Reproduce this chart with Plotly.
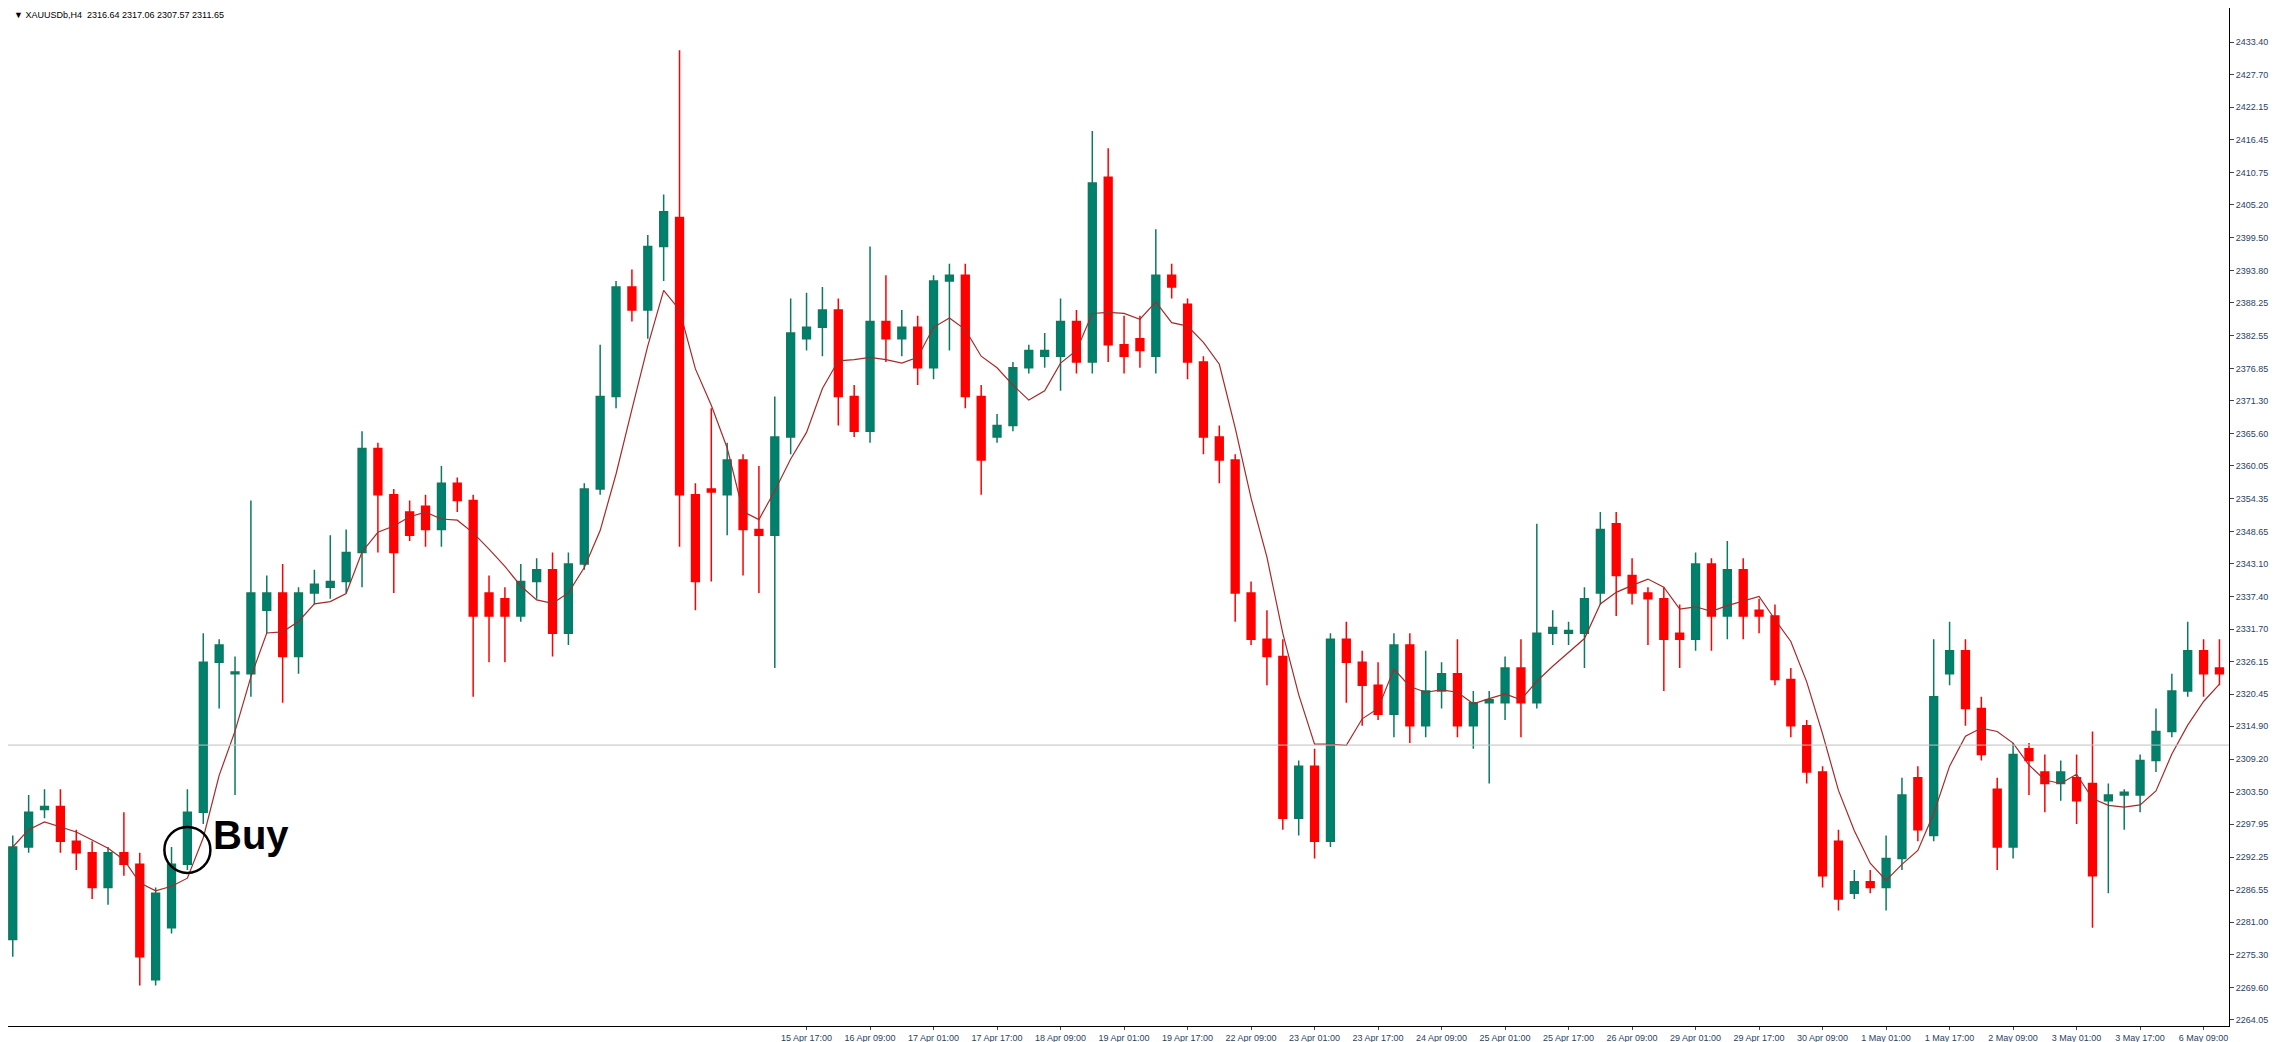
import plotly.graph_objects as go
import pandas as pd

opens = [2278, 2294, 2300.5, 2301, 2295, 2293, 2287, 2293, 2291, 2271,
         2280, 2291, 2300, 2326, 2324, 2324, 2335, 2338, 2327, 2338,
         2339, 2340, 2345, 2363, 2355, 2352, 2353, 2349, 2357, 2354,
         2338, 2337, 2334, 2340, 2342, 2331, 2343, 2356, 2372, 2391,
         2387, 2398, 2403, 2355, 2356, 2355, 2361, 2349, 2348, 2365,
         2382, 2384, 2387, 2372, 2366, 2385, 2382, 2384, 2377, 2392,
         2393, 2372, 2365, 2367, 2377, 2379, 2379, 2385, 2378, 2410,
         2381, 2382, 2379, 2393, 2388, 2378, 2365, 2361, 2338, 2330,
         2327, 2299, 2308, 2295, 2330, 2326, 2322, 2317, 2329, 2315,
         2321, 2324, 2315, 2319, 2319, 2325, 2319, 2331, 2331, 2331,
         2338, 2350, 2341, 2338, 2337, 2331, 2330, 2343, 2334, 2342,
         2335, 2334, 2323, 2315, 2307, 2295, 2286, 2288, 2287, 2292,
         2306, 2296, 2324, 2328, 2318, 2304, 2294, 2311, 2307, 2305,
         2306, 2305, 2302, 2303, 2303, 2309, 2314, 2321, 2328, 2325]
highs = [2296, 2303, 2304, 2304, 2297, 2295, 2294, 2300, 2293, 2287,
         2294, 2304, 2331, 2330, 2327, 2354, 2341, 2343, 2339, 2342,
         2348, 2349, 2366, 2364, 2356, 2354, 2355, 2360, 2358, 2355,
         2341, 2339, 2343, 2344, 2345, 2345, 2357, 2381, 2392, 2394,
         2400, 2407, 2432, 2357, 2370, 2364, 2362, 2360, 2372, 2389,
         2390, 2391, 2389, 2374, 2398, 2393, 2387, 2386, 2393, 2395,
         2395, 2374, 2369, 2378, 2381, 2383, 2389, 2387, 2418, 2415,
         2386, 2386, 2401, 2395, 2389, 2379, 2367, 2362, 2340, 2335,
         2330, 2309, 2311, 2331, 2333, 2328, 2326, 2331, 2331, 2328,
         2326, 2330, 2321, 2321, 2327, 2330, 2350, 2335, 2333, 2339,
         2352, 2352, 2344, 2339, 2339, 2336, 2345, 2344, 2347, 2344,
         2337, 2336, 2325, 2316, 2308, 2297, 2290, 2290, 2296, 2306,
         2308, 2330, 2333, 2330, 2320, 2306, 2312, 2312, 2310, 2309,
         2310, 2314, 2305, 2304, 2310, 2318, 2324, 2333, 2330, 2330]
lows = [2275, 2293, 2299, 2293, 2290, 2285, 2284, 2289, 2270, 2270,
        2279, 2290, 2298, 2318, 2303, 2320, 2331, 2319, 2324, 2336,
        2337, 2338, 2339, 2345, 2338, 2347, 2346, 2346, 2352, 2320,
        2326, 2326, 2333, 2337, 2327, 2329, 2342, 2355, 2370, 2385,
        2382, 2392, 2346, 2335, 2340, 2348, 2341, 2338, 2325, 2362,
        2380, 2379, 2367, 2365, 2364, 2378, 2379, 2374, 2375, 2380,
        2370, 2355, 2364, 2366, 2376, 2377, 2373, 2376, 2376, 2378,
        2376, 2377, 2376, 2389, 2375, 2362, 2357, 2333, 2329, 2322,
        2297, 2296, 2292, 2294, 2319, 2315, 2316, 2313, 2312, 2313,
        2318, 2313, 2311, 2305, 2316, 2313, 2318, 2329, 2329, 2325,
        2336, 2334, 2336, 2329, 2321, 2325, 2328, 2328, 2330, 2330,
        2331, 2322, 2313, 2305, 2287, 2283, 2285, 2286, 2283, 2290,
        2295, 2295, 2322, 2315, 2309, 2290, 2292, 2303, 2300, 2302,
        2298, 2280, 2286, 2297, 2300, 2307, 2313, 2320, 2320, 2322]
closes = [2294, 2300, 2301, 2295, 2293, 2287, 2293, 2291, 2275, 2286,
          2291, 2300, 2326, 2329, 2324.3, 2338, 2338, 2327, 2338, 2339.5,
          2340, 2345, 2363, 2355, 2345, 2348, 2349, 2357, 2354, 2334,
          2334, 2334, 2340, 2342, 2331, 2343, 2356, 2372, 2391, 2387,
          2398, 2404, 2355, 2340, 2355.5, 2361, 2349, 2348, 2365, 2383,
          2384, 2387, 2372, 2366, 2385, 2382, 2384, 2377, 2392, 2393,
          2372, 2361, 2367, 2377, 2380, 2380, 2385, 2378, 2409, 2381,
          2379, 2380, 2393, 2391, 2378, 2365, 2361, 2338, 2330, 2327,
          2299, 2308, 2295, 2330, 2326, 2322, 2317, 2329, 2315, 2321,
          2324, 2315, 2319, 2319.5, 2325, 2319, 2331, 2332, 2331.5, 2337,
          2349, 2341, 2338, 2337, 2330, 2330, 2343, 2334, 2342, 2334,
          2334, 2323, 2315, 2307, 2289, 2285, 2288, 2287, 2292, 2303,
          2297, 2320, 2328, 2318, 2310, 2294, 2310, 2309, 2305, 2307,
          2302, 2289, 2303, 2303.5, 2309, 2314, 2321, 2328, 2324, 2324]

time_labels = ["15 Apr 17:00", "16 Apr 09:00", "17 Apr 01:00", "17 Apr 17:00",
               "18 Apr 09:00", "19 Apr 01:00", "19 Apr 17:00", "22 Apr 09:00",
               "23 Apr 01:00", "23 Apr 17:00", "24 Apr 09:00", "25 Apr 01:00",
               "25 Apr 17:00", "26 Apr 09:00", "29 Apr 01:00", "29 Apr 17:00",
               "30 Apr 09:00", "1 May 01:00", "1 May 17:00", "2 May 09:00",
               "3 May 01:00", "3 May 17:00", "6 May 09:00"]
label_bars = [50 + 4 * k for k in range(len(time_labels))]

price_ticks = [2264.05, 2269.60, 2275.30, 2281.00, 2286.55, 2292.25, 2297.95,
               2303.50, 2309.20, 2314.90, 2320.45, 2326.15, 2331.70, 2337.40,
               2343.10, 2348.65, 2354.35, 2360.05, 2365.60, 2371.30, 2376.85,
               2382.55, 2388.25, 2393.80, 2399.50, 2405.20, 2410.75, 2416.45,
               2422.15, 2427.70, 2433.40]

last_price = 2311.65
buy_bar, buy_price = 11, 2293.5

bars = list(range(len(closes)))
ma = pd.Series(closes).rolling(5, min_periods=1).mean()

fig = go.Figure()
fig.add_trace(go.Candlestick(
    x=bars, open=opens, high=highs, low=lows, close=closes,
    increasing=dict(line=dict(color="#0B7A5E", width=1.5), fillcolor="#00806F"),
    decreasing=dict(line=dict(color="#FF0000", width=1.5), fillcolor="#FF0000"),
    whiskerwidth=0, hoverinfo="skip", showlegend=False))
fig.add_trace(go.Scatter(x=bars, y=ma, mode="lines",
                         line=dict(color="#A52A2A", width=1.2), showlegend=False))
fig.add_hline(y=last_price, line=dict(color="#C0C0C0", width=1))
fig.add_trace(go.Scatter(x=[buy_bar], y=[buy_price], mode="markers",
                         marker=dict(symbol="circle-open", size=46, color="black",
                                     line=dict(color="black", width=2.5)),
                         showlegend=False))
fig.add_annotation(x=buy_bar + 1.5, y=buy_price + 2.5, text="<b>Buy</b>",
                   showarrow=False, xanchor="left",
                   font=dict(family="Arial", size=40, color="black"))
fig.add_annotation(x=0.002, y=1, xref="paper", yref="paper", yanchor="top",
                   xanchor="left", showarrow=False,
                   text="▼ XAUUSDb,H4  2316.64 2317.06 2307.57 2311.65",
                   font=dict(family="Arial", size=9, color="black"))

fig.update_layout(
    width=2279, height=1042, margin=dict(l=0, r=58, t=0, b=24),
    paper_bgcolor="white", plot_bgcolor="white",
    xaxis=dict(range=[-0.3, 139.6], rangeslider=dict(visible=False),
               tickvals=label_bars, ticktext=time_labels, showgrid=False,
               zeroline=False, showline=True, linecolor="black",
               ticks="outside", ticklen=3, tickfont=dict(size=9, family="Arial")),
    yaxis=dict(range=[2263.0, 2439.3], side="right", tickvals=price_ticks,
               ticktext=[f"{v:.2f}" for v in price_ticks], showgrid=False,
               zeroline=False, showline=True, linecolor="black",
               ticks="outside", ticklen=4, tickfont=dict(size=9, family="Arial")),
)
fig.write_html("out.html")
